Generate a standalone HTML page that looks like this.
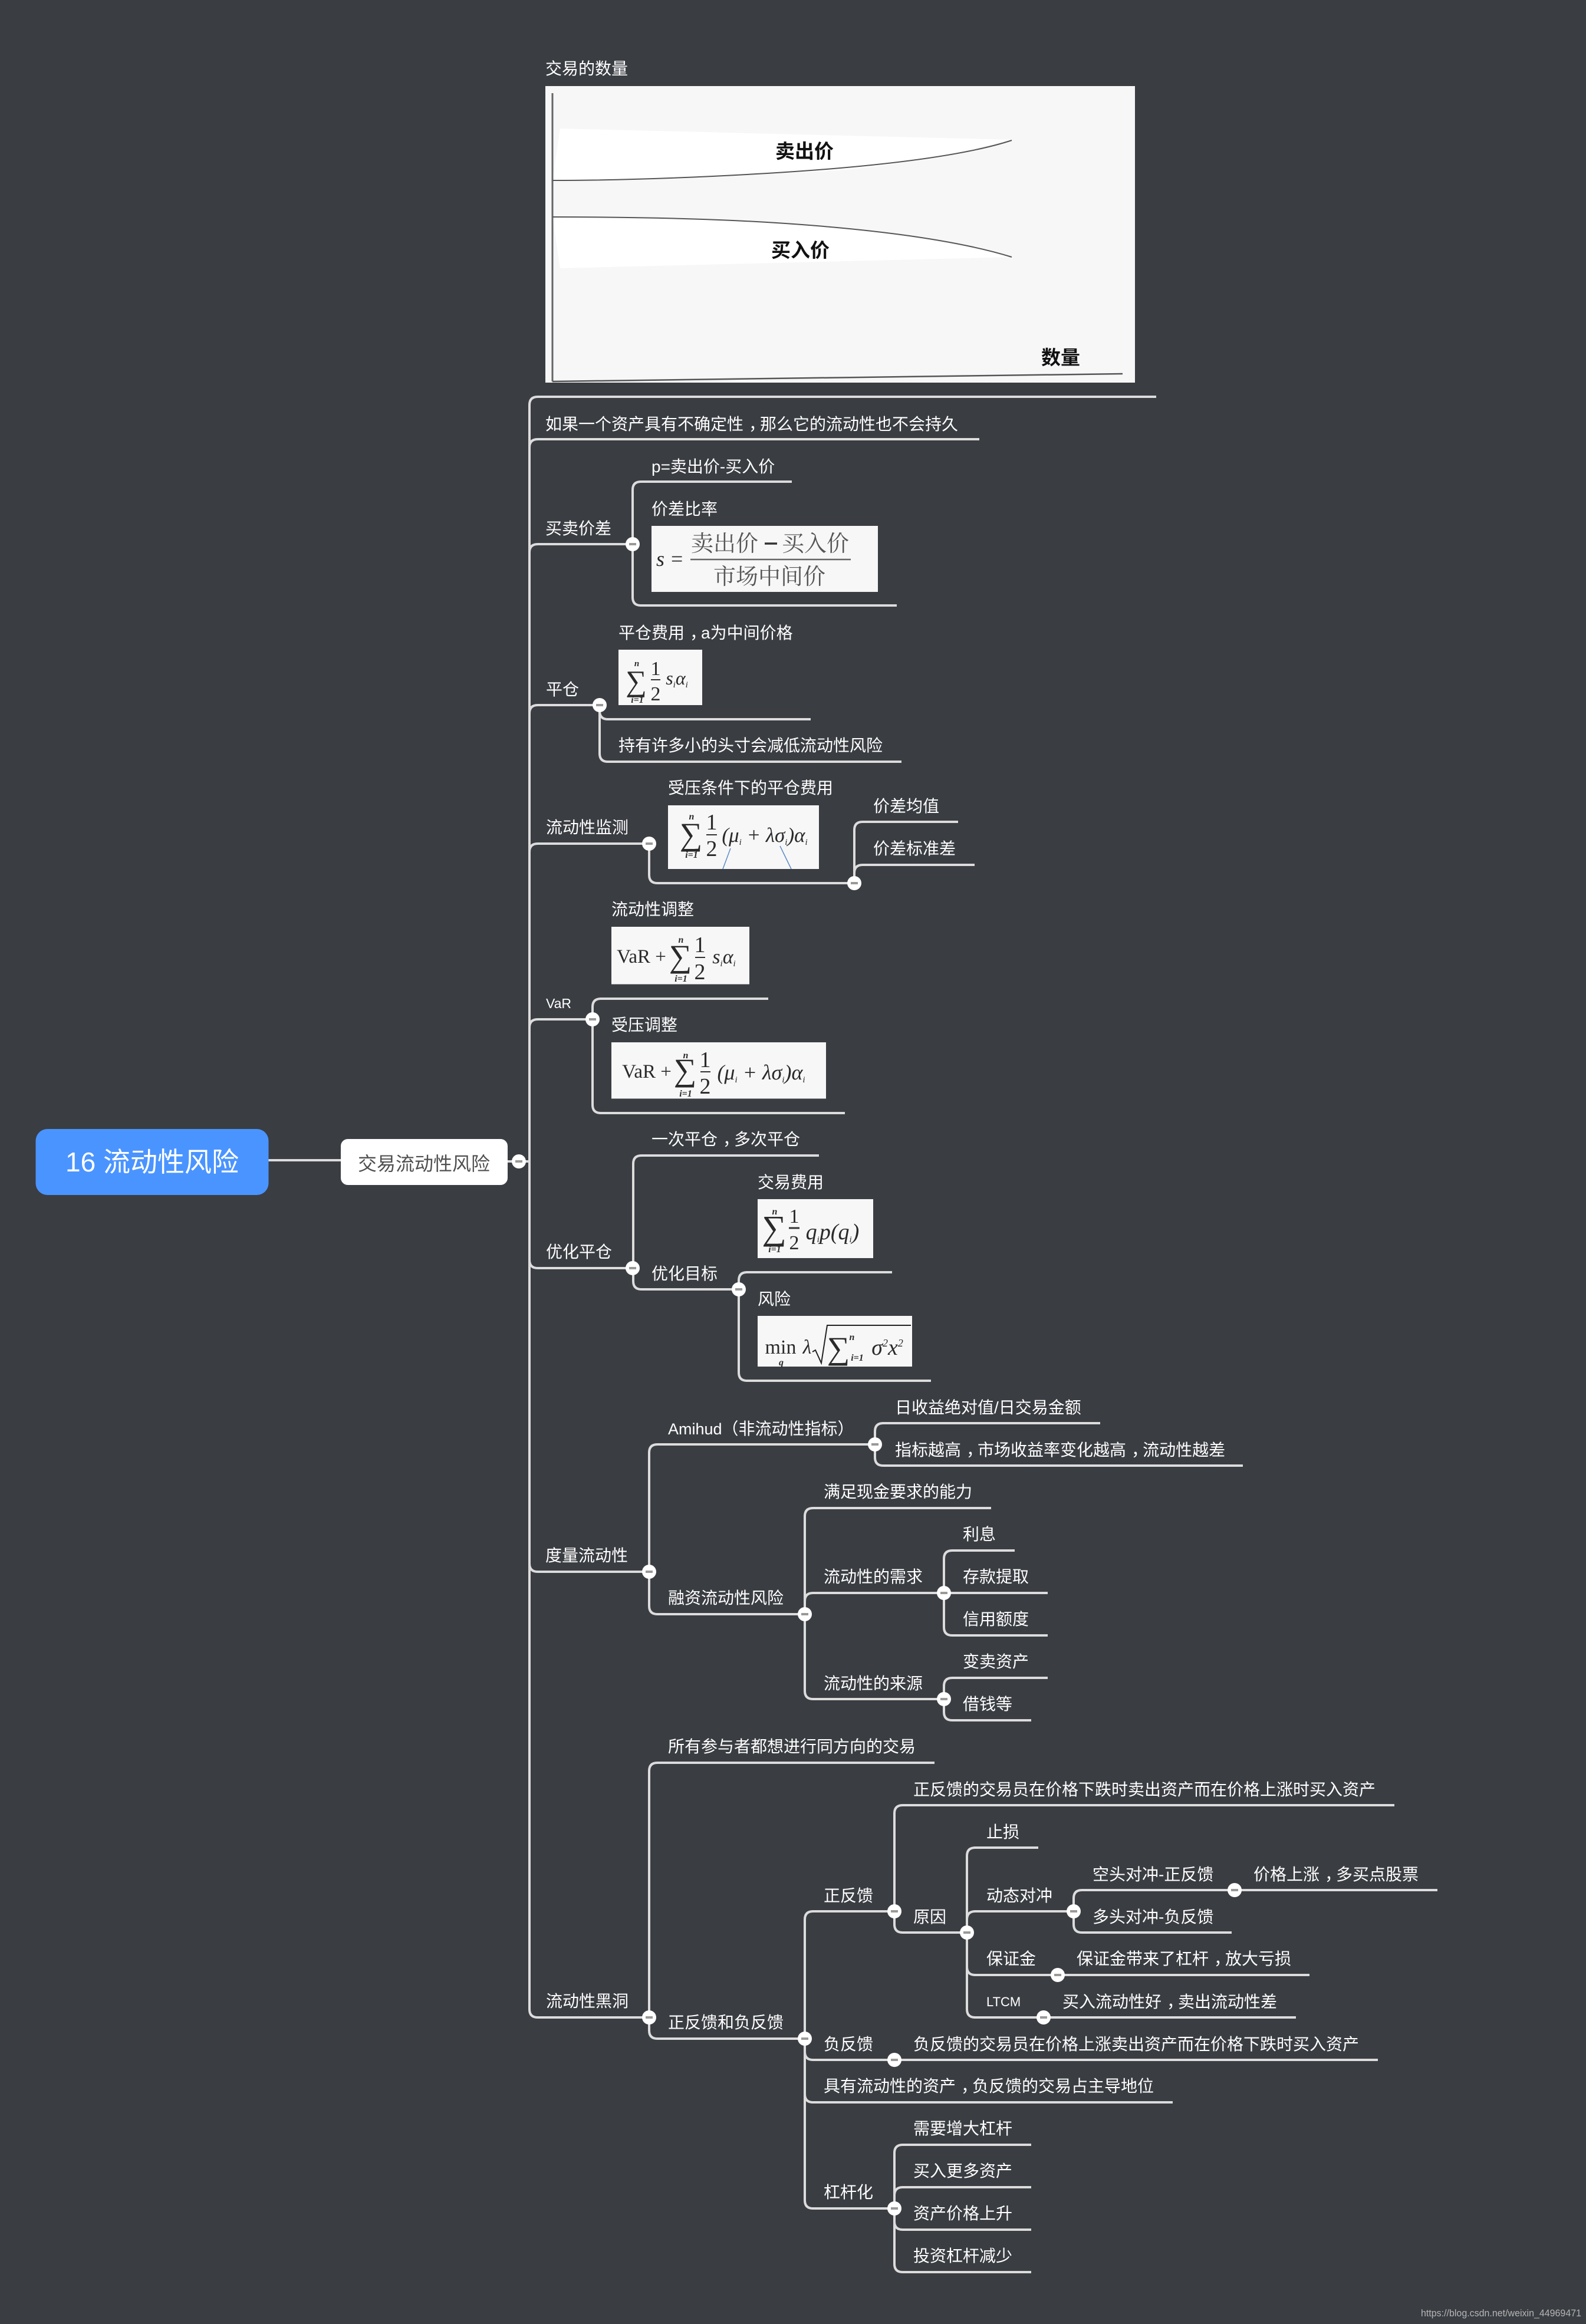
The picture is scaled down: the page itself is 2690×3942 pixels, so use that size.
<!DOCTYPE html>
<html lang="zh-CN">
<head>
<meta charset="utf-8">
<title>16 流动性风险</title>
<style>
html,body{margin:0;padding:0;background:#3a3d42;width:2690px;height:3942px;overflow:hidden}
svg{display:block}
text{font-family:"Liberation Sans","Noto Sans CJK SC",sans-serif}
.t text{font-size:28px;fill:#fff}
.f text{font-family:"Liberation Serif","DejaVu Serif","Noto Serif CJK SC",serif;fill:#2a2a2a}
.f .i{font-style:italic}
.l{fill:none;stroke:#dcdcdc;stroke-width:4;stroke-linecap:butt}
</style>
</head>
<body>
<svg xmlns="http://www.w3.org/2000/svg" width="2690" height="3942" viewBox="0 0 2690 3942">
<defs>
<g id="n"><circle r="12" fill="#fff"/><rect x="-6" y="-2" width="12" height="4" fill="#999"/></g>
</defs>
<rect width="2690" height="3942" fill="#3a3d42"/>

<!-- Root -->
<path d="M455 1968H578" stroke="#dcdcdc" stroke-width="4" fill="none"/>
<path d="M861 1970H898" stroke="#dcdcdc" stroke-width="4" fill="none"/>
<rect x="60.5" y="1915" width="395" height="112" rx="20" fill="#4a94ff"/>
<text x="111" y="1987" font-size="46" fill="#fff">16 流动性风险</text>
<rect x="578" y="1932" width="283" height="78" rx="12" fill="#fff"/>
<text x="607" y="1985" font-size="32" fill="#4f4f4f">交易流动性风险</text>

<!-- Connectors -->
<g class="l">
<path d="M898 1970V687Q898 673 912 673H1961"/>
<path d="M898 1970V759Q898 745 912 745H1661"/>
<path d="M898 1970V937Q898 923 912 923H1073"/>
<path d="M898 1970V1210Q898 1196 912 1196H1017"/>
<path d="M898 1970V1445Q898 1431 912 1431H1101"/>
<path d="M898 1970V1743Q898 1729 912 1729H1005"/>
<path d="M898 1970V2137Q898 2151 912 2151H1073"/>
<path d="M898 1970V2652Q898 2666 912 2666H1101"/>
<path d="M898 1970V3408Q898 3422 912 3422H1101"/>

<path d="M1073 923V831Q1073 817 1087 817H1343"/>
<path d="M1073 923V1013Q1073 1027 1087 1027H1521"/>

<path d="M1017 1196V1206Q1017 1220 1031 1220H1375"/>
<path d="M1017 1196V1278Q1017 1292 1031 1292H1529"/>

<path d="M1101 1431V1484Q1101 1498 1115 1498H1449"/>
<path d="M1449 1498V1408Q1449 1394 1463 1394H1625"/>
<path d="M1449 1498V1481Q1449 1467 1463 1467H1653"/>

<path d="M1005 1729V1708Q1005 1694 1019 1694H1303"/>
<path d="M1005 1729V1874Q1005 1888 1019 1888H1433"/>

<path d="M1074 2151V1974Q1074 1960 1088 1960H1389"/>
<path d="M1074 2151V2173Q1074 2187 1088 2187H1253"/>
<path d="M1253 2187V2172Q1253 2158 1267 2158H1513"/>
<path d="M1253 2187V2328Q1253 2342 1267 2342H1579"/>

<path d="M1101 2666V2464Q1101 2450 1115 2450H1484"/>
<path d="M1101 2666V2724Q1101 2738 1115 2738H1365"/>
<path d="M1484 2450V2428Q1484 2414 1498 2414H1866"/>
<path d="M1484 2450V2472Q1484 2486 1498 2486H2108"/>
<path d="M1365 2738V2572Q1365 2558 1379 2558H1681"/>
<path d="M1365 2738V2716Q1365 2702 1379 2702H1601"/>
<path d="M1365 2738V2868Q1365 2882 1379 2882H1601"/>
<path d="M1601 2702V2644Q1601 2630 1615 2630H1721"/>
<path d="M1601 2702H1777"/>
<path d="M1601 2702V2760Q1601 2774 1615 2774H1777"/>
<path d="M1601 2882V2860Q1601 2846 1615 2846H1777"/>
<path d="M1601 2882V2904Q1601 2918 1615 2918H1749"/>

<path d="M1101 3422V3004Q1101 2990 1115 2990H1585"/>
<path d="M1101 3422V3444Q1101 3458 1115 3458H1365"/>
<path d="M1365 3458V3256Q1365 3242 1379 3242H1517"/>
<path d="M1365 3458V3480Q1365 3494 1379 3494H2337"/>
<path d="M1365 3458V3552Q1365 3566 1379 3566H1989"/>
<path d="M1365 3458V3732Q1365 3746 1379 3746H1517"/>
<path d="M1517 3242V3076Q1517 3062 1531 3062H2365"/>
<path d="M1517 3242V3264Q1517 3278 1531 3278H1640"/>
<path d="M1640 3278V3148Q1640 3134 1654 3134H1761"/>
<path d="M1640 3278V3256Q1640 3242 1654 3242H1821"/>
<path d="M1640 3278V3336Q1640 3350 1654 3350H2221"/>
<path d="M1640 3278V3408Q1640 3422 1654 3422H2198"/>
<path d="M1821 3242V3220Q1821 3206 1835 3206H2438"/>
<path d="M1821 3242V3264Q1821 3278 1835 3278H2089"/>
<path d="M1517 3746V3652Q1517 3638 1531 3638H1749"/>
<path d="M1517 3746V3724Q1517 3710 1531 3710H1749"/>
<path d="M1517 3746V3768Q1517 3782 1531 3782H1749"/>
<path d="M1517 3746V3840Q1517 3854 1531 3854H1749"/>
</g>

<!-- Nodes -->
<use href="#n" x="880" y="1970"/>
<use href="#n" x="1073" y="923"/>
<use href="#n" x="1017" y="1196"/>
<use href="#n" x="1101" y="1431"/>
<use href="#n" x="1449" y="1498"/>
<use href="#n" x="1005" y="1729"/>
<use href="#n" x="1073" y="2151"/>
<use href="#n" x="1253" y="2187"/>
<use href="#n" x="1101" y="2666"/>
<use href="#n" x="1484" y="2450"/>
<use href="#n" x="1365" y="2738"/>
<use href="#n" x="1601" y="2702"/>
<use href="#n" x="1601" y="2882"/>
<use href="#n" x="1101" y="3422"/>
<use href="#n" x="1365" y="3458"/>
<use href="#n" x="1517" y="3242"/>
<use href="#n" x="1640" y="3278"/>
<use href="#n" x="1821" y="3242"/>
<use href="#n" x="2094" y="3206"/>
<use href="#n" x="1794" y="3350"/>
<use href="#n" x="1770" y="3422"/>
<use href="#n" x="1517" y="3494"/>
<use href="#n" x="1517" y="3746"/>

<!-- Labels -->
<g class="t">
<text x="925" y="126">交易的数量</text>
<text x="925" y="729">如果一个资产具有不确定性<tspan dx="9">，</tspan><tspan dx="-9">那么它的流动性也不会持久</tspan></text>
<text x="925" y="906">买卖价差</text>
<text x="1105" y="801">p=卖出价-买入价</text>
<text x="1105" y="873">价差比率</text>
<text x="926" y="1179">平仓</text>
<text x="1049" y="1083">平仓费用<tspan dx="9">，</tspan><tspan dx="-9">a为中间价格</tspan></text>
<text x="1049" y="1274">持有许多小的头寸会减低流动性风险</text>
<text x="926" y="1413">流动性监测</text>
<text x="1133" y="1346">受压条件下的平仓费用</text>
<text x="1481" y="1377">价差均值</text>
<text x="1481" y="1449">价差标准差</text>
<text x="926" y="1710" style="font-size:23px">VaR</text>
<text x="1037" y="1552">流动性调整</text>
<text x="1037" y="1748">受压调整</text>
<text x="926" y="2133">优化平仓</text>
<text x="1105" y="1942">一次平仓<tspan dx="9">，</tspan><tspan dx="-9">多次平仓</tspan></text>
<text x="1105" y="2170">优化目标</text>
<text x="1285" y="2015">交易费用</text>
<text x="1285" y="2213">风险</text>
<text x="925" y="2648">度量流动性</text>
<text x="1133" y="2433"><tspan style="font-size:27px">Amihud</tspan>（非流动性指标）</text>
<text x="1518" y="2397">日收益绝对值/日交易金额</text>
<text x="1518" y="2469">指标越高<tspan dx="9">，</tspan><tspan dx="-9">市场收益率变化越高</tspan><tspan dx="9">，</tspan><tspan dx="-9">流动性越差</tspan></text>
<text x="1133" y="2720">融资流动性风险</text>
<text x="1397" y="2540">满足现金要求的能力</text>
<text x="1397" y="2684">流动性的需求</text>
<text x="1397" y="2865">流动性的来源</text>
<text x="1633" y="2612">利息</text>
<text x="1633" y="2684">存款提取</text>
<text x="1633" y="2756">信用额度</text>
<text x="1633" y="2828">变卖资产</text>
<text x="1633" y="2900">借钱等</text>
<text x="926" y="3404">流动性黑洞</text>
<text x="1133" y="2972">所有参与者都想进行同方向的交易</text>
<text x="1133" y="3440">正反馈和负反馈</text>
<text x="1397" y="3225">正反馈</text>
<text x="1549" y="3045">正反馈的交易员在价格下跌时卖出资产而在价格上涨时买入资产</text>
<text x="1549" y="3261">原因</text>
<text x="1673" y="3117">止损</text>
<text x="1673" y="3225">动态对冲</text>
<text x="1853" y="3189">空头对冲-正反馈</text>
<text x="2126" y="3189">价格上涨<tspan dx="9">，</tspan><tspan dx="-9">多买点股票</tspan></text>
<text x="1853" y="3261">多头对冲-负反馈</text>
<text x="1673" y="3332">保证金</text>
<text x="1826" y="3332">保证金带来了杠杆<tspan dx="9">，</tspan><tspan dx="-9">放大亏损</tspan></text>
<text x="1673" y="3403" style="font-size:22px">LTCM</text>
<text x="1802" y="3405">买入流动性好<tspan dx="9">，</tspan><tspan dx="-9">卖出流动性差</tspan></text>
<text x="1397" y="3477">负反馈</text>
<text x="1549" y="3477">负反馈的交易员在价格上涨卖出资产而在价格下跌时买入资产</text>
<text x="1397" y="3548">具有流动性的资产<tspan dx="9">，</tspan><tspan dx="-9">负反馈的交易占主导地位</tspan></text>
<text x="1397" y="3728">杠杆化</text>
<text x="1549" y="3620">需要增大杠杆</text>
<text x="1549" y="3692">买入更多资产</text>
<text x="1549" y="3764">资产价格上升</text>
<text x="1549" y="3836">投资杠杆减少</text>
</g>

<!-- Chart image -->
<rect x="925" y="146" width="1000" height="503" fill="#f7f7f7"/>
<path d="M950 218L1715 237Q1500 294 1301 294Q1100 306 937 306Z" fill="#fff"/>
<path d="M937 368Q1150 370 1301 377Q1560 395 1716 436L950 455Z" fill="#fff"/>
<g fill="none" stroke="#555">
<path d="M937 158V647" stroke-width="3" stroke="#666"/>
<path d="M937 647L1904 634" stroke-width="2.5"/>
<path d="M937 306Q1100 306 1301 294Q1600 276 1716 238" stroke-width="2"/>
<path d="M937 368Q1150 368 1301 377Q1580 394 1716 436" stroke-width="2"/>
</g>
<g font-size="33" font-weight="700" fill="#111">
<text x="1315" y="268" style="font-family:'Noto Sans CJK SC',sans-serif">卖出价</text>
<text x="1308" y="436" style="font-family:'Noto Sans CJK SC',sans-serif">买入价</text>
<text x="1766" y="618" style="font-family:'Noto Sans CJK SC',sans-serif">数量</text>
</g>

<!-- Formula: spread ratio -->
<rect x="1105" y="892" width="384" height="112" fill="#f7f7f7"/>
<g class="f">
<text x="1113" y="960" class="i" font-size="36">s</text>
<text x="1138" y="960" font-size="36">=</text>
<path d="M1171 949H1443" stroke="#666" stroke-width="2.5"/>
<text x="1172" y="935" font-size="38" style="font-family:'Noto Serif CJK SC',serif;fill:#555">卖出价</text>
<path d="M1297 922H1318" stroke="#333" stroke-width="3.5"/>
<text x="1326" y="935" font-size="38" style="font-family:'Noto Serif CJK SC',serif;fill:#555">买入价</text>
<text x="1210" y="991" font-size="38" style="font-family:'Noto Serif CJK SC',serif;fill:#555">市场中间价</text>
</g>

<!-- Formula: closeout -->
<rect x="1049" y="1102" width="142" height="94" fill="#f7f7f7"/>
<g class="f" text-anchor="middle">
<text x="1079" y="1172" font-size="50">∑</text>
<text x="1080" y="1130" font-size="15" font-weight="700" class="i">n</text>
<text x="1081" y="1192" font-size="16" font-weight="700" class="i">i=1</text>
<text x="1112" y="1145" font-size="34">1</text>
<path d="M1104 1153H1120" stroke="#333" stroke-width="2"/>
<text x="1112" y="1188" font-size="34">2</text>
<text x="1148" y="1161" font-size="32" class="i">s<tspan font-size="15" dy="5">i</tspan><tspan dy="-5">α</tspan><tspan font-size="15" dy="5">i</tspan></text>
</g>

<!-- Formula: stressed closeout -->
<rect x="1133" y="1366" width="256" height="108" fill="#f7f7f7"/>
<g class="f" text-anchor="middle">
<text x="1172" y="1433" font-size="54">∑</text>
<text x="1173" y="1390" font-size="16" font-weight="700" class="i">n</text>
<text x="1173" y="1455" font-size="16" font-weight="700" class="i">i=1</text>
<text x="1207" y="1407" font-size="38">1</text>
<path d="M1198 1416H1216" stroke="#333" stroke-width="2"/>
<text x="1207" y="1452" font-size="38">2</text>
<text x="1297" y="1428" font-size="35" class="i">(μ<tspan font-size="15" dy="5">i</tspan><tspan dy="-5"> + λσ</tspan><tspan font-size="15" dy="5">i</tspan><tspan dy="-5">)α</tspan><tspan font-size="15" dy="5">i</tspan></text>
</g>
<path d="M1226 1474L1239 1439M1342 1474L1323 1435" stroke="#5b8bc9" stroke-width="1.5" fill="none"/>

<!-- Formula: VaR 1 -->
<rect x="1037" y="1572" width="234" height="97.5" fill="#f7f7f7"/>
<g class="f" text-anchor="middle">
<text x="1088" y="1633" font-size="33">VaR +</text>
<text x="1154" y="1640" font-size="54">∑</text>
<text x="1155" y="1599" font-size="16" font-weight="700" class="i">n</text>
<text x="1155" y="1665" font-size="16" font-weight="700" class="i">i=1</text>
<text x="1187" y="1615" font-size="38">1</text>
<path d="M1179 1624H1196" stroke="#333" stroke-width="2"/>
<text x="1187" y="1661" font-size="38">2</text>
<text x="1228" y="1634" font-size="34" class="i">s<tspan font-size="15" dy="5">i</tspan><tspan dy="-5">α</tspan><tspan font-size="15" dy="5">i</tspan></text>
</g>

<!-- Formula: VaR 2 -->
<rect x="1037" y="1768" width="364" height="95.5" fill="#f7f7f7"/>
<g class="f" text-anchor="middle">
<text x="1097" y="1828" font-size="33">VaR +</text>
<text x="1162" y="1833" font-size="54">∑</text>
<text x="1163" y="1795" font-size="16" font-weight="700" class="i">n</text>
<text x="1163" y="1860" font-size="16" font-weight="700" class="i">i=1</text>
<text x="1196" y="1810" font-size="38">1</text>
<path d="M1188 1818H1205" stroke="#333" stroke-width="2"/>
<text x="1196" y="1855" font-size="38">2</text>
<text x="1291" y="1831" font-size="36" class="i">(μ<tspan font-size="15" dy="5">i</tspan><tspan dy="-5"> + λσ</tspan><tspan font-size="15" dy="5">i</tspan><tspan dy="-5">)α</tspan><tspan font-size="15" dy="5">i</tspan></text>
</g>

<!-- Formula: transaction cost -->
<rect x="1285" y="2034" width="196" height="100" fill="#f7f7f7"/>
<g class="f" text-anchor="middle">
<text x="1313" y="2102" font-size="58">∑</text>
<text x="1314" y="2060" font-size="16" font-weight="700" class="i">n</text>
<text x="1314" y="2124" font-size="16" font-weight="700" class="i">i=1</text>
<text x="1347" y="2074" font-size="34">1</text>
<path d="M1338 2083H1356" stroke="#333" stroke-width="3"/>
<text x="1347" y="2119" font-size="34">2</text>
<text x="1412" y="2102" font-size="38" class="i">q<tspan font-size="15" dy="5">i</tspan><tspan dy="-5">p(q</tspan><tspan font-size="15" dy="5">i</tspan><tspan dy="-5">)</tspan></text>
</g>

<!-- Formula: risk -->
<rect x="1285" y="2232" width="262" height="86" fill="#f7f7f7"/>
<g class="f" text-anchor="middle">
<text x="1324" y="2296" font-size="34">min</text>
<text x="1325" y="2316" font-size="16" font-weight="700" class="i">q</text>
<text x="1369" y="2296" font-size="34" class="i">λ</text>
<path d="M1378 2293L1383 2290L1393 2312L1403 2248H1545" fill="none" stroke="#222" stroke-width="2"/>
<text x="1422" y="2305" font-size="54">∑</text>
<text x="1445" y="2273" font-size="16" font-weight="700" class="i">n</text>
<text x="1454" y="2308" font-size="16" font-weight="700" class="i">i=1</text>
<text x="1505" y="2298" font-size="38" class="i">σ<tspan font-size="18" dy="-14">2</tspan><tspan dy="14">x</tspan><tspan font-size="18" dy="-14">2</tspan></text>
</g>

<!-- Watermark -->
<text x="2410" y="3929" font-size="17" fill="#b5b5b5" textLength="272" lengthAdjust="spacingAndGlyphs">https://blog.csdn.net/weixin_44969471</text>
</svg>
</body>
</html>
